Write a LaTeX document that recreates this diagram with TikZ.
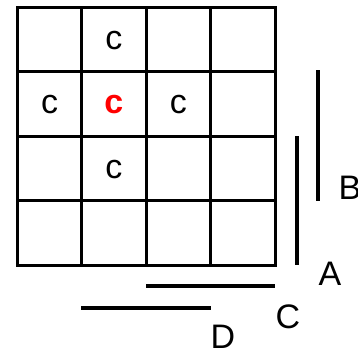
\documentclass[tikz,border=0pt]{standalone}
\usepackage{fontspec}
\setmainfont{Liberation Sans}
\usetikzlibrary{positioning}

\begin{document}
\begin{tikzpicture}[x=1pt, y=-1pt,
  bar/.style={line width=3.1pt},
  letter/.style={font=\fontsize{34}{40}\selectfont, inner sep=0pt},
  hit/.style={letter, text=red, font=\fontsize{34}{40}\selectfont\bfseries}]
\useasboundingbox (0,0) rectangle (358,349);
% board
\draw[bar] (17.5,7.5) rectangle (275.1,265.1);
\foreach \i in {1,2,3} {
  \draw[bar] (17.5+64.4*\i,7.5) -- (17.5+64.4*\i,265.1);
  \draw[bar] (17.5,7.5+64.4*\i) -- (275.1,7.5+64.4*\i);
}
% marks in the cells
\node[letter] (c12) at (113.9,40.5) {c};
\node[letter] (c21) at (49.7,104.9) {c};
\node[hit] (c22) at (113.9,104.9) {c};
\node[letter] (c23) at (178.3,104.9) {c};
\node[letter] (c32) at (113.9,169.3) {c};
% side bars
\coordinate (a1) at (297,136);
\coordinate (a2) at (297,265);
\coordinate (b1) at (318,70);
\coordinate (b2) at (318,201);
\coordinate (cc1) at (146,286);
\coordinate (cc2) at (275,286);
\coordinate (d1) at (81,308);
\coordinate (d2) at (211,308);
\draw[bar] (a1) -- (a2);
\draw[bar] (b1) -- (b2);
\draw[bar] (cc1) -- (cc2);
\draw[bar] (d1) -- (d2);
\node[letter] (labA) at (330,274) {A};
\node[letter] (labB) at (350,188) {B};
\node[letter] (labC) at (288,317) {C};
\node[letter] (labD) at (223,337) {D};
\end{tikzpicture}
\end{document}
